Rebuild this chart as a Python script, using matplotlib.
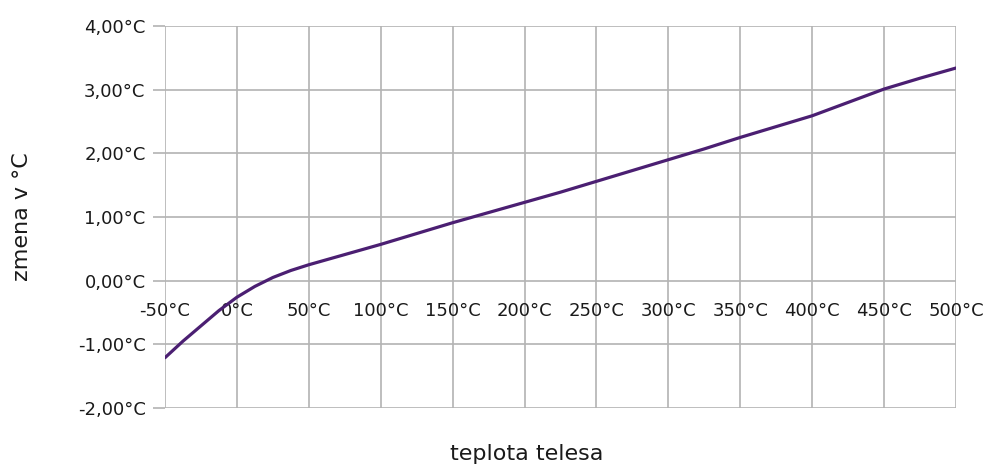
import numpy as np
import matplotlib
matplotlib.use('Agg')
import matplotlib.pyplot as plt

#---- data ----
teplota = [-50, -37.5, -25, -12.5, 0, 12.5, 25, 37.5, 50, 75, 100, 125, 150, 175, 200,
           225, 250, 275, 300, 325, 350, 375, 400, 425, 450, 475, 500]
zmena = [-1.21, -0.95, -0.71, -0.47, -0.26, -0.09, 0.05, 0.16, 0.25, 0.41, 0.57, 0.74,
         0.91, 1.07, 1.23, 1.39, 1.56, 1.73, 1.90, 2.07, 2.25, 2.42, 2.59, 2.80, 3.01, 3.18, 3.34]

x_ticks = [-50, 0, 50, 100, 150, 200, 250, 300, 350, 400, 450, 500]
x_labels = ['-50°C', '0°C', '50°C', '100°C', '150°C', '200°C', '250°C',
            '300°C', '350°C', '400°C', '450°C', '500°C']
y_ticks = [-2, -1, 0, 1, 2, 3, 4]
y_labels = ['-2,00°C', '-1,00°C', '0,00°C', '1,00°C', '2,00°C', '3,00°C', '4,00°C']

#---- figure ----
plt.rcParams['font.family'] = 'DejaVu Sans'
grid_col = '#b3b3b3'
txt_col = '#1a1a1a'

fig = plt.figure(figsize=(9.87, 4.71), dpi=100)
ax = fig.add_axes([165/987, 63/471, 791/987, 382/471])

ax.plot(teplota, zmena, color='#4b1f72', lw=2.3, solid_capstyle='round', zorder=3)

ax.set_xlim(-50, 500)
ax.set_ylim(-2, 4)
ax.set_xticks(x_ticks)
ax.set_xticklabels(x_labels)
ax.set_yticks(y_ticks)
ax.set_yticklabels(y_labels)

ax.grid(True, color=grid_col, lw=1.2)
for s in ['top', 'right', 'left']:
    ax.spines[s].set_visible(False)
# x labels sit on the zero line
ax.spines['bottom'].set_position(('data', 0))
ax.spines['bottom'].set_visible(False)

ax.tick_params(axis='x', length=0, pad=15, labelsize=13, colors=txt_col)
ax.tick_params(axis='y', length=8.5, width=1.2, color=grid_col, pad=5.5,
               labelsize=13, labelcolor=txt_col)

ax.set_xlabel('teplota telesa', fontsize=16, color=txt_col)
ax.xaxis.set_label_coords((527-165)/791, -0.095)
ax.set_ylabel('zmena v °C', fontsize=16, color=txt_col)
ax.yaxis.set_label_coords(-0.168, 0.5)

fig.savefig('out.png', dpi=100)
